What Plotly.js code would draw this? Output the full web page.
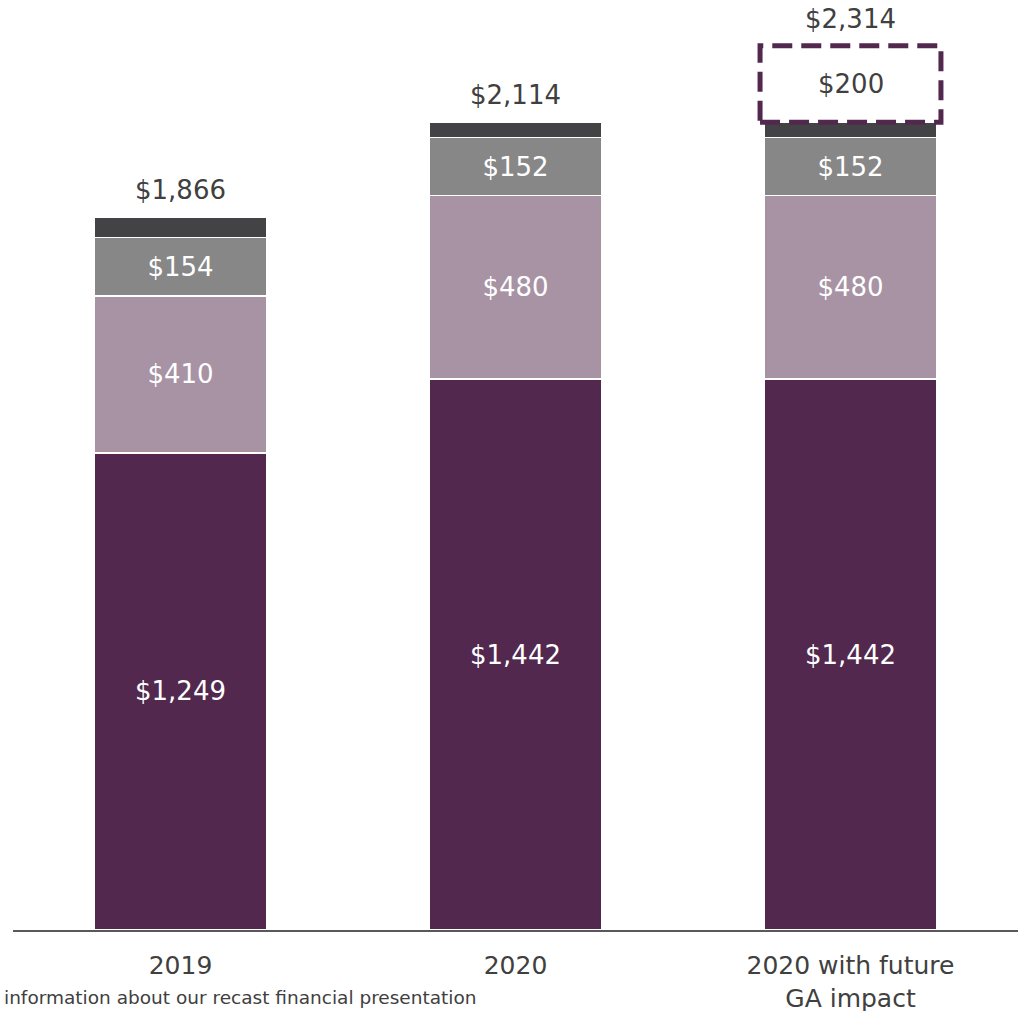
<!DOCTYPE html>
<html><head><meta charset="utf-8">
<script src="https://cdn.plot.ly/plotly-3.0.1.min.js"></script>
<style>html,body{margin:0;padding:0;background:#fff;}#chart{width:1018px;height:1011px;}</style>
</head><body><div id="chart"></div>
<script>
const categories = ["2019", "2020", "2020 with future<br>GA impact"];
const segBase = [1249, 1442, 1442];
const segMauve = [410, 480, 480];
const segGray = [154, 152, 152];
const segTop = [53, 40, 40];
const totals = [1866, 2114, 2314];
const futureGA = [null, null, 200];
const footnote = "information about our recast financial presentation";

const fmt = v => "$" + v.toLocaleString("en-US");
const FONT = "DejaVu Sans, Verdana, sans-serif";

function seg(vals, color, labels) {
  return {
    type: "bar", x: categories, y: vals,
    marker: {color: color, line: {color: "#ffffff", width: 1.5}},
    width: 0.516,
    text: labels ? vals.map(fmt) : null,
    textposition: labels ? "inside" : "none",
    insidetextanchor: "middle",
    textfont: {color: "#ffffff", size: 26, family: FONT},
    hoverinfo: "none", showlegend: false
  };
}

const data = [
  seg(segBase, "#52284f", true),
  seg(segMauve, "#a893a5", true),
  seg(segGray, "#878787", true),
  seg(segTop, "#434345", false)
];

const stackTop = categories.map((c, i) => segBase[i] + segMauve[i] + segGray[i] + segTop[i]);

const annotations = totals.map((t, i) => ({
  x: i, y: t, xref: "x", yref: "y", text: fmt(t),
  showarrow: false, yanchor: "bottom", yshift: 10,
  font: {size: 26, color: "#404040", family: FONT}
}));
const shapes = [];
futureGA.forEach((v, i) => {
  if (v == null) return;
  annotations.push({x: i, y: stackTop[i] + v / 2, xref: "x", yref: "y", text: fmt(v),
    showarrow: false, font: {size: 26, color: "#404040", family: FONT}});
  shapes.push({type: "rect", xref: "x", yref: "y", x0: i - 0.27, x1: i + 0.27,
    y0: stackTop[i], y1: stackTop[i] + v,
    line: {color: "#52284f", width: 5, dash: "20px,9px"}, fillcolor: "rgba(0,0,0,0)"});
});
annotations.push({xref: "paper", yref: "paper", x: -0.011, y: -0.0865, xanchor: "left", yanchor: "bottom",
  text: footnote, showarrow: false, font: {size: 18.5, color: "#404040", family: FONT}});

const layout = {
  width: 1018, height: 1011,
  margin: {l: 13, r: 0, t: 0, b: 81},
  barmode: "stack",
  paper_bgcolor: "#ffffff", plot_bgcolor: "#ffffff",
  font: {family: FONT, color: "#404040"},
  xaxis: {type: "category", range: [-0.5, 2.5], showline: true, linecolor: "#595959", linewidth: 2,
    ticks: "", ticklabelstandoff: 12, tickfont: {size: 25, color: "#404040", family: FONT},
    showgrid: false, zeroline: false, fixedrange: true},
  yaxis: {range: [0, 2434], visible: false, showgrid: false, zeroline: false},
  annotations: annotations, shapes: shapes
};
Plotly.newPlot("chart", data, layout, {displayModeBar: false, staticPlot: true});
</script></body></html>
